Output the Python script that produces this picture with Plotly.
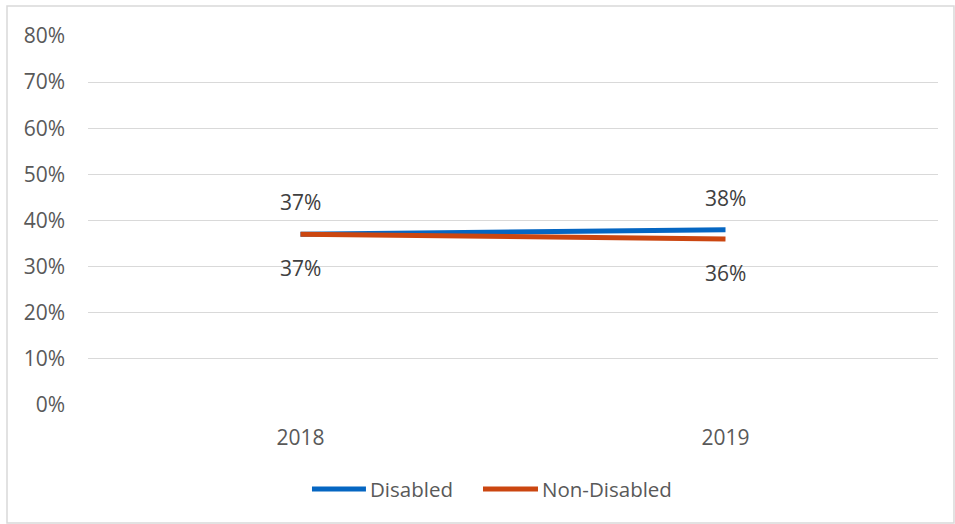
import plotly.graph_objects as go

years = ["2018", "2019"]
disabled = [0.37, 0.38]
non_disabled = [0.37, 0.36]
disabled_labels = ["37%", "38%"]
non_disabled_labels = ["37%", "36%"]
y_ticks = [0, 0.1, 0.2, 0.3, 0.4, 0.5, 0.6, 0.7, 0.8]
y_tick_labels = ["0%", "10%", "20%", "30%", "40%", "50%", "60%", "70%", "80%"]
series_names = ["Disabled", "Non-Disabled"]

BLUE = "#0566C2"
ORANGE = "#CB4610"
TXT = "#595959"
LBL = "#404040"
FONT = "Open Sans"
FS = 21

fig = go.Figure()
fig.add_trace(go.Scatter(x=years, y=disabled, mode="lines", name=series_names[0],
                         line=dict(color=BLUE, width=5)))
fig.add_trace(go.Scatter(x=years, y=non_disabled, mode="lines", name=series_names[1],
                         line=dict(color=ORANGE, width=5)))

for i, (y, t) in enumerate(zip(disabled, disabled_labels)):
    fig.add_annotation(x=i, y=y, xref="x", yref="y", text=t, showarrow=False, yshift=32,
                       font=dict(size=FS, color=LBL, family=FONT))
for i, (y, t) in enumerate(zip(non_disabled, non_disabled_labels)):
    fig.add_annotation(x=i, y=y, xref="x", yref="y", text=t, showarrow=False, yshift=-34,
                       font=dict(size=FS, color=LBL, family=FONT))

# chart border
fig.add_shape(type="rect", xref="paper", yref="paper",
              x0=-0.0953, x1=1.0188, y0=-0.3198, y1=1.0813,
              line=dict(color="#D9D9D9", width=1.5), fillcolor="rgba(0,0,0,0)")

# custom legend (long line keys as in the reference)
leg_y = -0.2276
leg_items = [(series_names[0], BLUE, 0.2635, 0.327),
             (series_names[1], ORANGE, 0.4647, 0.5294)]
for name, col, x0, x1 in leg_items:
    fig.add_shape(type="line", xref="paper", yref="paper", x0=x0, x1=x1, y0=leg_y, y1=leg_y,
                  line=dict(color=col, width=5))
    fig.add_annotation(x=x1 + 0.002, y=leg_y, xref="paper", yref="paper", text=name,
                       showarrow=False, xanchor="left", yanchor="middle",
                       font=dict(size=20.5, color=TXT, family=FONT))

fig.update_layout(
    width=955, height=524,
    margin=dict(l=88, r=17, t=36, b=119),
    paper_bgcolor="white", plot_bgcolor="white",
    font=dict(family=FONT, size=FS, color=TXT),
    showlegend=False,
    xaxis=dict(type="category", range=[-0.5, 1.5], showgrid=False, zeroline=False,
               showline=False, ticks="", ticklabelstandoff=18,
               tickfont=dict(size=FS, color=TXT, family=FONT)),
    yaxis=dict(range=[0, 0.8], tickvals=y_ticks, ticktext=y_tick_labels,
               showgrid=True, gridcolor="#D9D9D9", gridwidth=1.3, zeroline=False,
               showline=False, ticks="", ticklabelstandoff=22,
               tickfont=dict(size=FS, color=TXT, family=FONT)),
)

fig.write_html("out.html")
